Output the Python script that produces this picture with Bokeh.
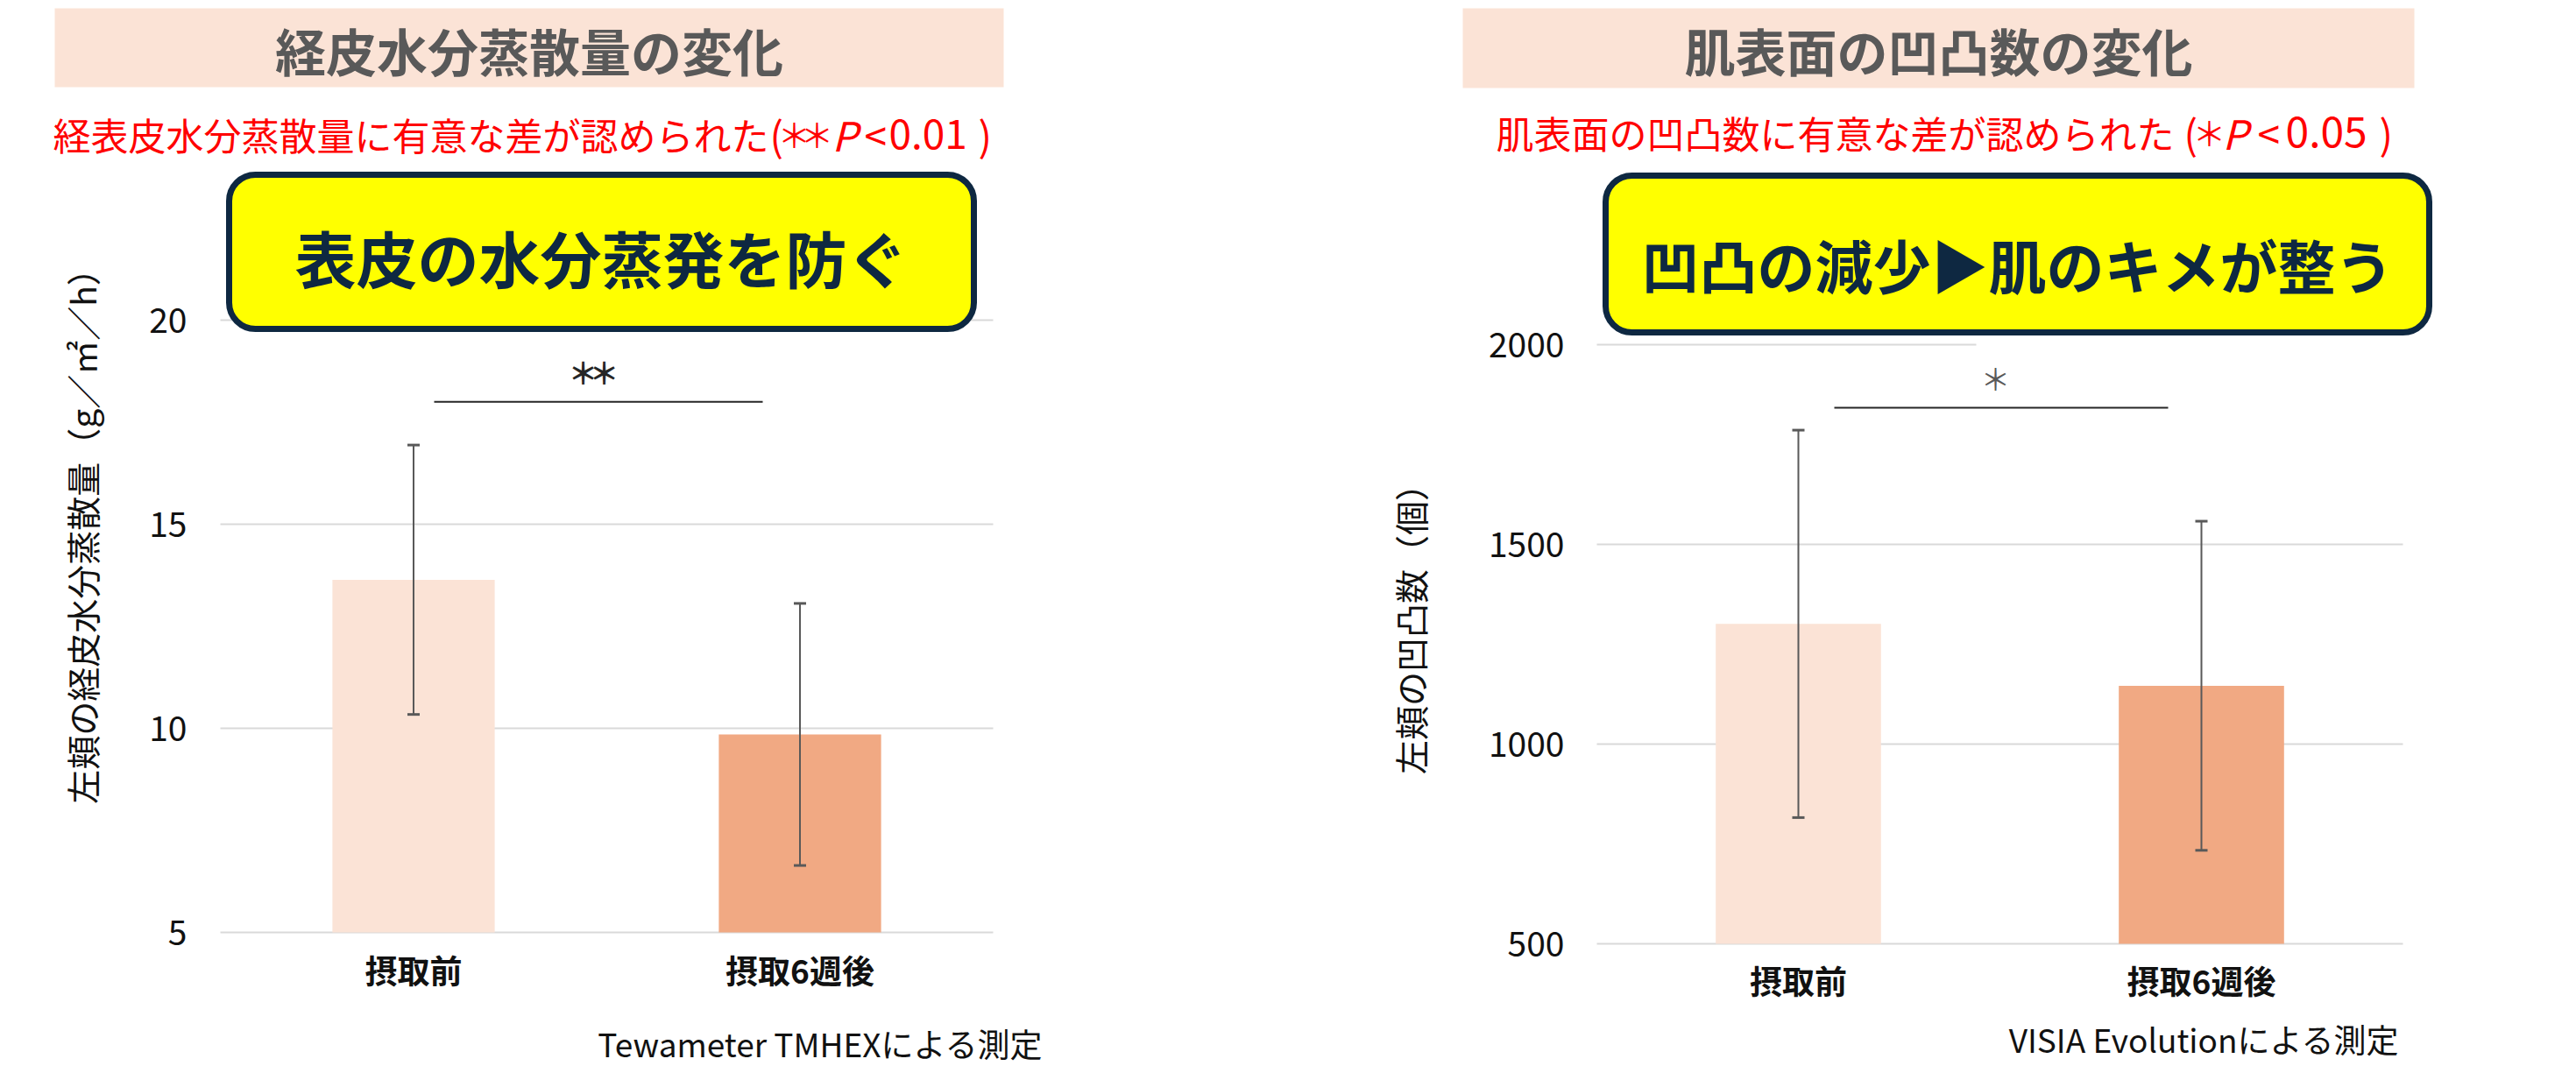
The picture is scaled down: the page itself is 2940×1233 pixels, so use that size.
import math
from bokeh.plotting import figure
from bokeh.models import (Range1d, FixedTicker, BoxAnnotation, Label, Whisker,
                          TeeHead, ColumnDataSource, LinearAxis)
from bokeh.embed import file_html
from bokeh.resources import INLINE

FONT = "Noto Sans CJK JP"

# ---------------- data ----------------
categories = ["摂取前", "摂取6週後"]
bar_colors = ["#fbe3d6", "#f1a983"]

tewl_mean = [13.64, 9.85]
tewl_sd = [3.30, 3.21]
tewl_ticks = [5, 10, 15, 20]
tewl_sig_level = 18
tewl_sig_stars = 2

bump_mean = [1301, 1146]
bump_sd = [485, 412]
bump_ticks = [500, 1000, 1500, 2000]
bump_sig_level = 1842
bump_sig_stars = 1

W, H = 2930, 1230
OFF = 0          # page offset of the canvas inside the screenshot
NAVY = "#0e2841"

p = figure(width=W, height=H, x_range=Range1d(0, W), y_range=Range1d(0, H),
           x_axis_type=None, y_axis_type=None, title=None,
           min_border_left=0, min_border_right=0, min_border_top=0, min_border_bottom=0,
           output_backend="svg", toolbar_location=None)
p.outline_line_color = None
p.background_fill_color = "white"
p.border_fill_color = "white"


def PX(x):
    return x - OFF


def PY(y):
    return H - (y - OFF)


def text(x, y, s, size, color, align="left", style="normal", angle=0.0, level="annotation"):
    p.add_layout(Label(x=PX(x), y=PY(y), text=s, text_align=align, text_baseline="middle",
                       text_font=FONT, text_font_size=size, text_font_style=style,
                       text_color=color, angle=angle, level=level))


def add_chart(name, spec):
    fx0, fx1 = spec["frame_x"]
    v_lo, px_lo, v_hi, px_hi = spec["ycal"]
    kx = 2.0 / (fx1 - fx0)
    ky = (v_hi - v_lo) / (px_lo - px_hi)

    def X(px):
        return -0.5 + kx * (px - fx0)

    def Y(py):
        return v_lo + ky * (px_lo - py)

    p.extra_x_ranges[name] = Range1d(X(OFF), X(OFF + W))
    p.extra_y_ranges[name] = Range1d(Y(OFF + H), Y(OFF))
    rn = dict(x_range_name=name, y_range_name=name)

    # grid lines (behind bars)
    g = spec["grid_ticks"]
    p.segment(x0=[-0.5] * len(g), x1=[1.5] * len(g), y0=g, y1=g,
              line_color="#d9d9d9", line_width=2, **rn)
    if spec.get("partial_grid"):
        val, px_end = spec["partial_grid"]
        p.segment(x0=[-0.5], x1=[X(px_end)], y0=[val], y1=[val],
                  line_color="#d9d9d9", line_width=2, **rn)

    mean, sd = spec["mean"], spec["sd"]
    src = ColumnDataSource(dict(
        x=[0, 1], top=mean, color=bar_colors,
        upper=[m + s for m, s in zip(mean, sd)],
        lower=[m - s for m, s in zip(mean, sd)]))
    p.vbar(x="x", top="top", bottom=v_lo, width=spec["bar_w"], source=src,
           fill_color="color", line_color=None, **rn)
    p.add_layout(Whisker(source=src, base="x", upper="upper", lower="lower",
                         line_color="#595959", line_width=2, level="overlay",
                         upper_head=TeeHead(size=14, line_color="#595959", line_width=3),
                         lower_head=TeeHead(size=14, line_color="#595959", line_width=3),
                         **rn))

    # axes
    yax = LinearAxis(fixed_location=-0.5, ticker=FixedTicker(ticks=spec["ticks"]),
                     axis_line_color=None, major_tick_line_color=None,
                     minor_tick_line_color=None, major_label_standoff=spec["ystandoff"],
                     major_label_text_font=FONT, major_label_text_font_size="39px",
                     major_label_text_color="#111111", **rn)
    p.add_layout(yax, "left")
    xax = LinearAxis(fixed_location=v_lo, ticker=FixedTicker(ticks=[0, 1]),
                     major_label_overrides={0: categories[0], 1: categories[1]},
                     axis_line_color=None, major_tick_line_color=None,
                     minor_tick_line_color=None, major_label_standoff=spec["xstandoff"],
                     major_label_text_font=FONT, major_label_text_font_size="37px",
                     major_label_text_font_style="bold",
                     major_label_text_color="#111111", **rn)
    p.add_layout(xax, "below")

    # significance bracket
    sx0, sx1 = spec["sig_x"]
    p.line(x=[X(sx0), X(sx1)], y=[spec["sig_level"]] * 2,
           line_color="#262626", line_width=2, **rn)
    n = spec["sig_stars"]
    mx, my = spec["sig_mark"]
    for i in range(n):
        text(mx + (i - (n - 1) / 2) * 24, my, "＊", "34px", spec["sig_color"],
             align="center", style="bold" if n > 1 else "normal")

    # title box
    bx0, bx1, by0, by1 = spec["title_box"]
    p.add_layout(BoxAnnotation(left=PX(bx0), right=PX(bx1), top=PY(by0), bottom=PY(by1),
                               fill_color="#fbe3d6", fill_alpha=1.0, line_color=None,
                               level="underlay"))
    text((bx0 + bx1) / 2, (by0 + by1) / 2 + 2, spec["title"], "58px", "#595959",
         align="center", style="bold")

    # red subtitle, piece by piece
    sy = spec["sub_y"]
    for s, xx, al, size, st in spec["sub"]:
        if s == "*":
            text(xx, sy, "＊", "38px", "#ff0000", align="center")
        else:
            text(xx, sy, s, size, "#ff0000", align=al, style=st)

    # yellow callout box
    cx0, cx1, cy0, cy1 = spec["call_box"]
    p.add_layout(BoxAnnotation(left=PX(cx0 + 3), right=PX(cx1 - 3), top=PY(cy0 + 3),
                               bottom=PY(cy1 - 3), fill_color="#ffff00", fill_alpha=1.0,
                               line_color=NAVY, line_alpha=1.0, line_width=7,
                               border_radius=30, level="overlay"))
    text((cx0 + cx1) / 2, spec["call_y"], spec["call"], spec["call_size"], NAVY,
         align="center", style="bold", level="overlay")

    # y-axis title
    lx, ly = spec["ylabel_pos"]
    text(lx, ly, spec["ylabel"], "39px", "#111111", align="center", angle=math.pi / 2)

    # footnote
    nx, ny = spec["note_pos"]
    text(nx, ny, spec["note"], "37px", "#111111", align="right")


add_chart("tewl", dict(
    frame_x=(251, 1133), ycal=(5, 1064, 20, 365),
    ticks=tewl_ticks, grid_ticks=tewl_ticks, ystandoff=32, xstandoff=9,
    mean=tewl_mean, sd=tewl_sd, bar_w=0.42,
    sig_x=(495, 870), sig_level=tewl_sig_level, sig_stars=tewl_sig_stars,
    sig_mark=(677, 424), sig_color="#262626",
    title_box=(62, 1145, 9, 99), title="経皮水分蒸散量の変化",
    sub_y=152,
    sub=[("経表皮水分蒸散量に有意な差が認められた", 60, "left", "43px", "normal"),
         ("(", 878, "left", "46px", "normal"),
         ("*", 906, None, None, None), ("*", 932, None, None, None),
         ("P", 949, "left", "46px", "italic"),
         ("<", 986, "left", "46px", "normal"),
         ("0.01", 1014, "left", "46px", "normal"),
         (")", 1116, "left", "46px", "normal")],
    call_box=(258, 1114, 196, 378), call="表皮の水分蒸発を防ぐ", call_y=293, call_size="70px",
    ylabel="左頬の経皮水分蒸散量（g／㎡／h）", ylabel_pos=(92, 602),
    note="Tewameter TMHEXによる測定", note_pos=(1190, 1190),
))

add_chart("bump", dict(
    frame_x=(1822, 2742), ycal=(500, 1077, 2000, 393),
    ticks=bump_ticks, grid_ticks=bump_ticks[:-1], ystandoff=31, xstandoff=8,
    partial_grid=(bump_ticks[-1], 2255),
    mean=bump_mean, sd=bump_sd, bar_w=0.41,
    sig_x=(2093, 2474), sig_level=bump_sig_level, sig_stars=bump_sig_stars,
    sig_mark=(2277, 431), sig_color="#595959",
    title_box=(1669, 2755, 9, 100), title="肌表面の凹凸数の変化",
    sub_y=150,
    sub=[("肌表面の凹凸数に有意な差が認められた", 1707, "left", "43px", "normal"),
         ("(", 2492, "left", "46px", "normal"),
         ("*", 2521, None, None, None),
         ("P", 2536, "left", "46px", "italic"),
         ("<", 2576, "left", "46px", "normal"),
         ("0.05", 2608, "left", "48px", "normal"),
         (")", 2715, "left", "46px", "normal")],
    call_box=(1829, 2775, 197, 382), call="凹凸の減少▶肌のキメが整う", call_y=300, call_size="66px",
    ylabel="左頬の凹凸数（個）", ylabel_pos=(1608, 708),
    note="VISIA Evolutionによる測定", note_pos=(2738, 1185),
))

open("out.html", "w").write(file_html(p, INLINE))
